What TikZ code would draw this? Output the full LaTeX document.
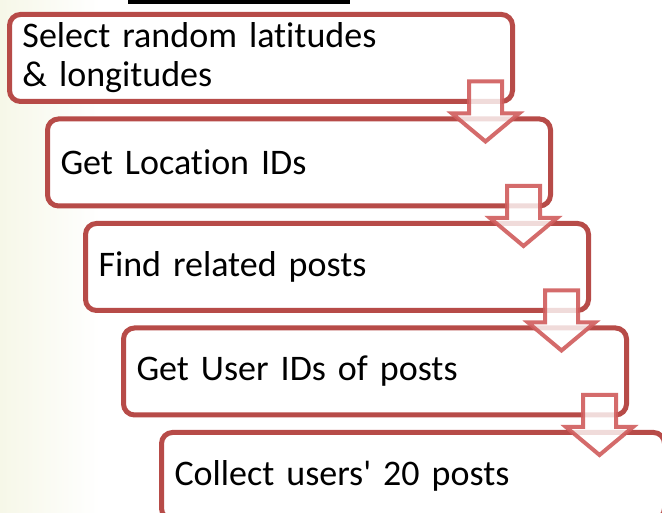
\documentclass[tikz,border=0pt]{standalone}
\usepackage{fontspec}
\newfontfamily\stepfont[Ligatures=NoCommon,WordSpace=0.78]{Carlito}
\usepackage{xcolor}
\definecolor{Col1}{RGB}{183,75,72}
\definecolor{Col2}{RGB}{208,92,92}
\definecolor{Glow}{RGB}{246,247,232}
\tikzstyle{Step}=[draw=Col1,line width=5pt,rounded corners=11pt,fill=white,
minimum height=87pt,inner xsep=13pt,inner ysep=0pt,text width=477pt,
align=left,font=\stepfont\fontsize{36}{39}\selectfont]
\tikzstyle{Arrow}=[draw=Col2,draw opacity=.9,fill=white,fill opacity=.8,
line width=4pt,line join=miter]

\begin{document}
\begin{tikzpicture}[x=1pt,y=1pt]
            \useasboundingbox(0,0)rectangle(662,513);
            \clip(0,0)rectangle(662,513);
            \shade[left color=Glow,right color=white](0,0)rectangle(100,513);
            \fill[black](128,508.5)rectangle(350,513);
            \node[Step](1)at(261,455)
                {Select random latitudes\\\& longitudes};
            \node[Step](2)at(299,350.5){Get Location IDs};
            \node[Step](3)at(337,246){Find related posts};
            \node[Step](4)at(375,141.5){Get User IDs of posts};
            \node[Step](5)at(413,37){Collect users' 20 posts};
            \foreach \i in {1,2,3,4}
                \draw[Arrow,shift={(\i.south east)}](-46,22.5)--(-13,22.5)
                    --(-13,-9.5)--(4,-9.5)--(-29.5,-37.5)--(-63,-9.5)
                    --(-46,-9.5)--cycle;
        \end{tikzpicture}
\end{document}
